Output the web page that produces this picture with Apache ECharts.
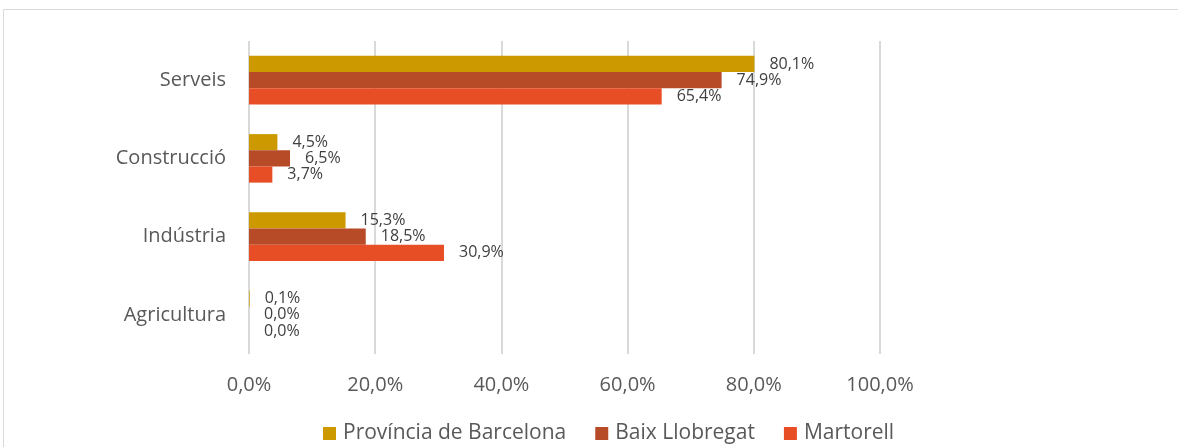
<!DOCTYPE html>
<html>
<head>
<meta charset="utf-8">
<script src="https://cdn.jsdelivr.net/npm/echarts@6/dist/echarts.min.js"></script>
<style>
  html, body { margin: 0; padding: 0; background: #fff; }
  #chart { width: 1178px; height: 447px; }
</style>
</head>
<body>
<div id="chart"></div>
<script>
// categories from bottom to top
var categories = ["Agricultura", "Indústria", "Construcció", "Serveis"];
var provincia = [0.1, 15.3, 4.5, 80.1];
var baix = [0.0, 18.5, 6.5, 74.9];
var martorell = [0.0, 30.9, 3.7, 65.4];
var seriesNames = ["Província de Barcelona", "Baix Llobregat", "Martorell"];
var colors = ["#cc9900", "#b84b27", "#e84e25"];

var fontFam = "'Open Sans', sans-serif";

function fmt(v) {
    return v.toFixed(1).replace(".", ",") + "%";
}

var chart = echarts.init(document.getElementById("chart"));
window.addEventListener("resize", chart.resize);

function makeSeries(name, data, color) {
    return {
        name: name,
        type: "bar",
        data: data,
        barGap: "0%",
        barCategoryGap: "38%",
        itemStyle: { color: color },
        label: {
            show: true,
            position: "right",
            distance: 15,
            color: "#404040",
            fontSize: 16,
            fontFamily: fontFam,
            formatter: function(p) { return fmt(p.value); }
        }
    };
}

var option = {
    animation: false,
    color: colors,
    graphic: [{
        type: "rect",
        shape: { x: 3.5, y: 9.5, width: 1200, height: 460 },
        style: { fill: "none", stroke: "#d9d9d9", lineWidth: 1 },
        silent: true
    }],
    grid: {
        left: 249,
        right: 298,
        top: 41,
        height: 313
    },
    legend: {
        data: seriesNames,
        left: 318,
        top: 418,
        itemWidth: 13,
        itemHeight: 13,
        itemGap: 29,
        icon: "rect",
        textStyle: {
            color: "#595959",
            fontSize: 21,
            fontFamily: fontFam,
            padding: [0, 0, 0, 2]
        }
    },
    xAxis: {
        type: "value",
        min: 0,
        max: 100,
        interval: 20,
        axisLine: { show: false },
        axisTick: { show: false },
        splitLine: { lineStyle: { color: "#d9d9d9", width: 2 } },
        axisLabel: {
            color: "#595959",
            fontSize: 20,
            fontFamily: fontFam,
            margin: 21,
            formatter: function(v) { return fmt(v); }
        }
    },
    yAxis: {
        type: "category",
        data: categories,
        axisLine: { show: false },
        axisTick: { show: false },
        axisLabel: {
            color: "#595959",
            fontSize: 20,
            fontFamily: fontFam,
            margin: 23
        }
    },
    series: [
        makeSeries(seriesNames[0], provincia, colors[0]),
        makeSeries(seriesNames[1], baix, colors[1]),
        makeSeries(seriesNames[2], martorell, colors[2])
    ]
};
chart.setOption(option);
</script>
</body>
</html>
